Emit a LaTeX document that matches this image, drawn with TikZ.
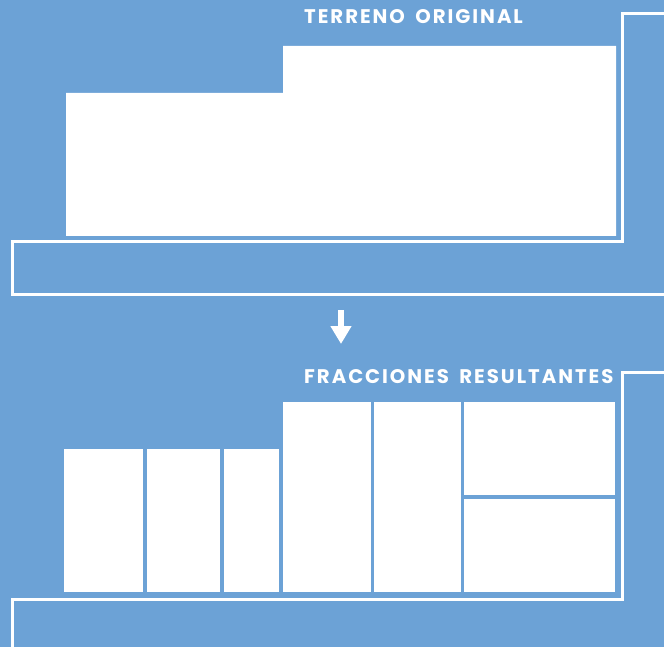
\documentclass[tikz,border=0pt]{standalone}
\usepackage{fontspec}
\newfontfamily\titlefont{Poppins}[LetterSpace=10,WordSpace=1.7]
\usetikzlibrary{arrows.meta}
\definecolor{plotblue}{RGB}{108,162,214}

\begin{document}
\begin{tikzpicture}[x=1pt,y=-1pt]
        \useasboundingbox (0,0) rectangle (664,647);
        \fill[plotblue] (0,0) rectangle (664,647);
        % original terrain
        \fill[white] (66,93) -- (283,93) -- (283,46) -- (616,46) -- (616,236) -- (66,236) -- cycle;
        \draw[white, line width=3pt] (667,13.5) -- (622,13.5) -- (622,242) -- (12.5,242) -- (12.5,294.3) -- (667,294.3);
        \node[anchor=base west, inner sep=0pt, text=white, font=\titlefont\bfseries\fontsize{19.7}{22}\selectfont] (titleorig) at (304,24) {TERRENO ORIGINAL};
        % arrow between both states
        \coordinate (arrowstart) at (341,310);
        \coordinate (arrowend) at (341,344);
        \draw[white, line width=6pt, -{Triangle[width=20pt,length=18pt]}] (arrowstart) -- (arrowend);
        % resulting fractions
        \draw[white, line width=3pt] (667,372.5) -- (622,372.5) -- (622,599.7) -- (12.5,599.7) -- (12.5,650);
        \node[anchor=base west, inner sep=0pt, text=white, font=\titlefont\bfseries\fontsize{19.7}{22}\selectfont] (titlefrac) at (304,383.5) {FRACCIONES RESULTANTES};
        \foreach \xa/\ya/\xb/\yb in {64/449/143.3/591.5, 147.3/449/220.3/591.5, 224.3/449/278.7/591.5,
                                     282.5/402.3/370.5/591.5, 374.2/402.3/460.5/591.5,
                                     464/402.3/614.8/495, 464/498.7/614.8/591.5} {
            \fill[white] (\xa,\ya) rectangle (\xb,\yb);
        }
\end{tikzpicture}
\end{document}
